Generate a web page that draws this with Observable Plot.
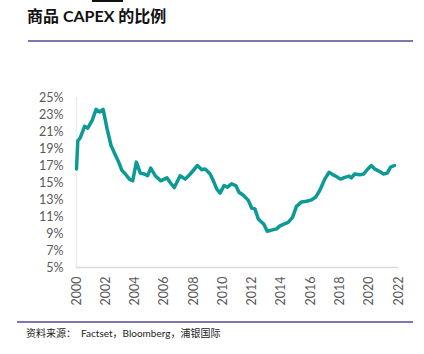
<!DOCTYPE html>
<html><head><meta charset="utf-8">
<script src="https://cdn.jsdelivr.net/npm/d3@7"></script>
<script src="https://cdn.jsdelivr.net/npm/@observablehq/plot@0.6"></script>
<style>
body{margin:0;width:424px;height:354px;background:#fff;position:relative;overflow:hidden;font-family:Lato,"Noto Sans CJK SC",sans-serif;}
#bar{position:absolute;left:92px;top:0;width:31px;height:2px;background:#111;}
#title{position:absolute;left:27px;top:3px;font-size:16px;font-weight:bold;color:#111;white-space:nowrap;font-family:Lato,"Noto Sans CJK SC",sans-serif;}
.hr{position:absolute;height:2px;background:#7f76ad;}
#caption{position:absolute;left:26px;top:325px;font-size:10px;color:#222;white-space:nowrap;}
#chart{position:absolute;left:0;top:0;}
</style></head>
<body>
<div id="chart"></div>
<div id="bar"></div>
<div id="title">商品 CAPEX 的比例</div>
<div class="hr" style="left:28px;top:40px;width:385px;"></div>
<div class="hr" style="left:17px;top:321px;width:396px;"></div>
<div id="caption">资料来源：&nbsp; Factset，Bloomberg，浦银国际</div>
<script>
const years = [2000.0,2000.09,2000.27,2000.55,2000.77,2001.07,2001.34,2001.57,2001.82,2002.09,2002.36,2002.66,2002.88,2003.11,2003.34,2003.61,2003.84,2004.09,2004.36,2004.63,2004.86,2005.07,2005.38,2005.75,2006.18,2006.4,2006.68,2007.08,2007.43,2007.77,2008.26,2008.56,2008.79,2009.13,2009.35,2009.58,2009.81,2010.08,2010.31,2010.6,2010.9,2011.1,2011.4,2011.74,2011.97,2012.19,2012.42,2012.65,2012.8,2013.03,2013.33,2013.67,2013.9,2014.17,2014.46,2014.76,2015.03,2015.37,2015.72,2016.06,2016.35,2016.62,2016.96,2017.26,2017.53,2017.76,2018.03,2018.33,2018.62,2018.78,2019.0,2019.35,2019.62,2019.91,2020.14,2020.37,2020.71,2020.98,2021.23,2021.46,2021.73];
const share = [16.6,19.9,20.3,21.6,21.4,22.3,23.6,23.3,23.6,21.3,19.35,18.2,17.4,16.4,16.0,15.4,15.2,17.4,16.1,16.0,15.8,16.7,15.8,15.2,15.55,15.0,14.4,15.8,15.4,16.0,17.0,16.5,16.6,16.0,15.2,14.25,13.75,14.65,14.45,14.85,14.6,13.85,13.5,12.9,12.0,11.9,10.7,10.33,10.1,9.27,9.4,9.55,9.9,10.1,10.3,10.9,12.2,12.7,12.8,12.96,13.3,14.06,15.4,16.2,15.9,15.7,15.4,15.6,15.75,15.55,16.0,15.9,16.0,16.6,17.0,16.6,16.3,16.0,16.1,16.8,17.0];
const yTicks = [5,7,9,11,13,15,17,19,21,23,25];
const xTicks = [2000,2002,2004,2006,2008,2010,2012,2014,2016,2018,2020,2022];

const data = years.map((y,i)=>({year:y, value:share[i]}));

const chart = Plot.plot({
  width:424, height:354,
  marginLeft:76, marginRight:26, marginTop:97, marginBottom:87,
  style:{fontFamily:"Lato, sans-serif", fontSize:"12.5px", color:"#595959", background:"transparent"},
  x:{domain:[2000,2022], ticks:xTicks, tickFormat:d=>String(d), tickSize:0, tickPadding:9, tickRotate:-90, label:null},
  y:{domain:[5,25], ticks:yTicks, tickFormat:d=>d+"%", tickSize:0, tickPadding:13, label:null},
  marks:[
    Plot.ruleX([2000],{y1:5,y2:25,stroke:"#ececec",strokeWidth:1.5}),
    Plot.ruleY([5],{stroke:"#d9d9d9",strokeWidth:1.5}),
    Plot.line(data,{x:"year",y:"value",stroke:"#0b9b94",strokeWidth:3.5,strokeLinejoin:"round",strokeLinecap:"round"})
  ]
});
document.getElementById("chart").appendChild(chart);
</script>
</body></html>
